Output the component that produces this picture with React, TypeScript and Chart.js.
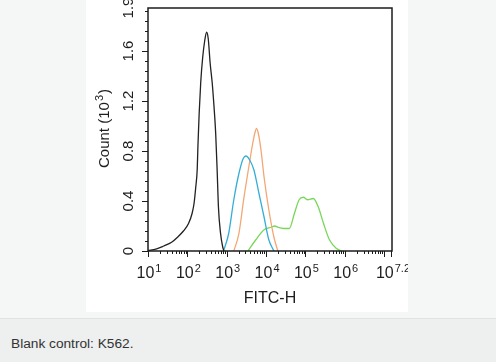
import React, { useEffect, useRef } from 'react';
import { Chart, registerables } from 'chart.js';

Chart.register(...registerables);

// FITC-H values are given as log10 exponents
const blackExp = [1.0, 1.2, 1.4, 1.6, 1.75, 1.9, 2.03, 2.12, 2.17, 2.21, 2.25, 2.27, 2.3, 2.34, 2.39, 2.44, 2.49, 2.53, 2.58, 2.63, 2.665, 2.72, 2.76, 2.79, 2.84, 2.9, 2.93];
const blackCount = [0.005, 0.015, 0.04, 0.07, 0.11, 0.16, 0.22, 0.3, 0.38, 0.5, 0.65, 0.85, 1.1, 1.35, 1.55, 1.68, 1.75, 1.7, 1.5, 1.35, 1.21, 0.94, 0.62, 0.35, 0.15, 0.03, 0.0];

const cyanExp = [2.92, 3.05, 3.18, 3.31, 3.42, 3.49, 3.58, 3.69, 3.82, 3.95, 4.07, 4.2];
const cyanCount = [0.0, 0.14, 0.41, 0.62, 0.74, 0.76, 0.73, 0.65, 0.46, 0.27, 0.09, 0.0];

const orangeExp = [3.18, 3.31, 3.43, 3.56, 3.66, 3.72, 3.76, 3.81, 3.87, 3.95, 4.07, 4.2, 4.3];
const orangeCount = [0.0, 0.14, 0.41, 0.67, 0.86, 0.95, 0.98, 0.93, 0.81, 0.59, 0.33, 0.11, 0.0];

const greenExp = [3.54, 3.74, 3.95, 4.13, 4.22, 4.3, 4.45, 4.59, 4.72, 4.84, 4.95, 5.05, 5.2, 5.33, 5.46, 5.61, 5.79, 5.92];
const greenCount = [0.0, 0.09, 0.17, 0.19, 0.2, 0.19, 0.18, 0.18, 0.3, 0.41, 0.43, 0.41, 0.42, 0.35, 0.22, 0.09, 0.02, 0.0];

const xMinExp = 1;
const xMaxExp = 7.2;
const xTickExps = [1, 2, 3, 4, 5, 6, 7.2];
const xTickBase = ['10', '10', '10', '10', '10', '10', '10'];
const xTickSup = ['1', '2', '3', '4', '5', '6', '7.2'];

const yMax = 1.944;
const yTickValues = [0, 0.4, 0.8, 1.2, 1.6, 1.944];
const yTickLabels = ['0', '0.4', '0.8', '1.2', '1.6', '1.9'];
const yMinorStep = 0.08;

const xTitle = 'FITC-H';
const yTitleMain = 'Count (10';
const yTitleSup = '3';
const yTitleEnd = ')';
const caption = 'Blank control: K562.';

const FONT = "'Liberation Sans', Arial, Helvetica, sans-serif";

const toPoints = (exps: number[], counts: number[]) =>
  exps.map((e, i) => ({ x: Math.pow(10, e), y: counts[i] }));

const axesPlugin = {
  id: 'flowAxes',
  afterDraw(chart: any) {
    const ctx = chart.ctx as CanvasRenderingContext2D;
    const { left, top, right, bottom } = chart.chartArea;
    const xs = chart.scales.x;
    const ys = chart.scales.y;
    ctx.save();
    ctx.strokeStyle = '#1c1c1c';
    ctx.lineWidth = 1.5;
    ctx.strokeRect(left, top, right - left, bottom - top);

    // x ticks
    ctx.lineWidth = 1;
    ctx.beginPath();
    for (let d = 1; d <= 7; d++) {
      for (let m = 1; m <= 9; m++) {
        const v = m * Math.pow(10, d);
        if (v > Math.pow(10, xMaxExp) * 1.0001) break;
        const px = Math.round(xs.getPixelForValue(v)) + 0.5;
        const len = m === 1 ? 6 : 3;
        ctx.moveTo(px, bottom);
        ctx.lineTo(px, bottom + len);
      }
    }
    const pxEnd = Math.round(xs.getPixelForValue(Math.pow(10, xMaxExp))) - 0.5;
    ctx.moveTo(pxEnd, bottom);
    ctx.lineTo(pxEnd, bottom + 6);

    // y ticks
    for (let v = 0; v <= yMax + 1e-6; v += yMinorStep) {
      const py = Math.round(ys.getPixelForValue(v)) + 0.5;
      const major = Math.abs(v / 0.4 - Math.round(v / 0.4)) < 1e-6;
      ctx.moveTo(left, py);
      ctx.lineTo(left - (major ? 6 : 3), py);
    }
    ctx.stroke();

    ctx.fillStyle = '#1e1e1e';
    // x labels
    xTickExps.forEach((e, i) => {
      const px = xs.getPixelForValue(Math.pow(10, e));
      ctx.font = `16px ${FONT}`;
      const wb = ctx.measureText(xTickBase[i]).width;
      ctx.font = `11px ${FONT}`;
      const we = ctx.measureText(xTickSup[i]).width;
      const start = px + 1 - (wb + we + 1) / 2;
      ctx.textAlign = 'left';
      ctx.textBaseline = 'alphabetic';
      ctx.font = `16px ${FONT}`;
      ctx.fillText(xTickBase[i], start, 278);
      ctx.font = `11px ${FONT}`;
      ctx.fillText(xTickSup[i], start + wb + 1, 272);
    });

    // y labels (rotated)
    yTickValues.forEach((v, i) => {
      const py = ys.getPixelForValue(v);
      ctx.save();
      ctx.translate(47, py);
      ctx.rotate(-Math.PI / 2);
      ctx.font = `15px ${FONT}`;
      ctx.textAlign = 'center';
      ctx.textBaseline = 'alphabetic';
      ctx.fillText(yTickLabels[i], 0, 0);
      ctx.restore();
    });

    // x title
    ctx.font = `16px ${FONT}`;
    ctx.textAlign = 'center';
    ctx.textBaseline = 'alphabetic';
    ctx.fillText(xTitle, (left + right) / 2, 303);

    // y title (rotated)
    ctx.save();
    ctx.translate(22.5, (top + bottom) / 2 - 1);
    ctx.rotate(-Math.PI / 2);
    ctx.textAlign = 'left';
    ctx.font = `15px ${FONT}`;
    const w1 = ctx.measureText(yTitleMain).width;
    const w3 = ctx.measureText(yTitleEnd).width;
    ctx.font = `11px ${FONT}`;
    const w2 = ctx.measureText(yTitleSup).width;
    const total = w1 + w2 + 2 + w3;
    let cx = -total / 2;
    ctx.font = `15px ${FONT}`;
    ctx.fillText(yTitleMain, cx, 0);
    cx += w1 + 1;
    ctx.font = `11px ${FONT}`;
    ctx.fillText(yTitleSup, cx, -6);
    cx += w2 + 1;
    ctx.font = `15px ${FONT}`;
    ctx.fillText(yTitleEnd, cx, 0);
    ctx.restore();

    ctx.restore();
  },
};

export default function App() {
  const canvasRef = useRef<HTMLCanvasElement | null>(null);

  useEffect(() => {
    document.body.style.margin = '0';
    const canvas = canvasRef.current;
    if (!canvas) return;
    const mk = (label: string, exps: number[], counts: number[], color: string) => ({
      label,
      data: toPoints(exps, counts),
      borderColor: color,
      backgroundColor: color,
      borderWidth: 1.3,
      pointRadius: 0,
      tension: 0.35,
      cubicInterpolationMode: 'monotone' as const,
      fill: false,
    });
    const chart = new Chart(canvas, {
      type: 'line',
      data: {
        datasets: [
          mk('Blank control', blackExp, blackCount, '#222222'),
          mk('Isotype', cyanExp, cyanCount, '#34aed6'),
          mk('Sample 2', orangeExp, orangeCount, '#f2a774'),
          mk('Antibody', greenExp, greenCount, '#78d65a'),
        ],
      },
      options: {
        responsive: false,
        animation: false,
        parsing: true,
        layout: { padding: { left: 62, top: 8, right: 16, bottom: 61 } },
        plugins: { legend: { display: false }, tooltip: { enabled: false }, title: { display: false } },
        scales: {
          x: {
            type: 'logarithmic',
            display: false,
            min: Math.pow(10, xMinExp),
            max: Math.pow(10, xMaxExp),
          },
          y: { type: 'linear', display: false, min: 0, max: yMax },
        },
      },
      plugins: [axesPlugin],
    });
    return () => chart.destroy();
  }, []);

  return (
    <div style={{ position: 'fixed', left: 0, top: 0, width: 496, height: 362, background: '#eeefef', overflow: 'hidden' }}>
      <div style={{ position: 'absolute', left: 0, top: 0, width: 496, height: 318, background: '#f5f7f7', borderBottom: '1px solid #e0e2e2' }} />
      <div style={{ position: 'absolute', left: 86, top: 0, width: 322, height: 312, background: '#ffffff' }}>
        <canvas ref={canvasRef} width={322} height={312} style={{ display: 'block', width: 322, height: 312 }} />
      </div>
      <div style={{ position: 'absolute', left: 11, top: 335, fontFamily: FONT, fontSize: 13.7, color: '#333333', whiteSpace: 'nowrap', lineHeight: '17px' }}>
        {caption}
      </div>
    </div>
  );
}
